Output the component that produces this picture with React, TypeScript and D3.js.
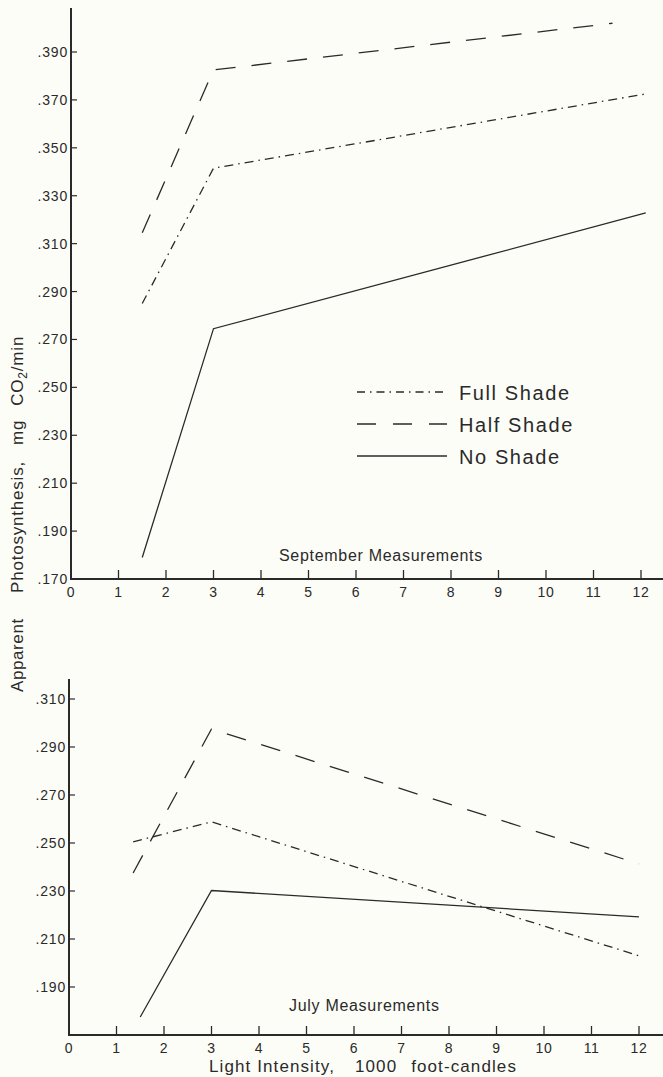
import React from "react";
import * as d3 from "d3";

// ---- Data ----
const xTicks = [0, 1, 2, 3, 4, 5, 6, 7, 8, 9, 10, 11, 12];
const septYTicks = [0.17, 0.19, 0.21, 0.23, 0.25, 0.27, 0.29, 0.31, 0.33, 0.35, 0.37, 0.39];
const julyYTicks = [0.19, 0.21, 0.23, 0.25, 0.27, 0.29, 0.31];

const septFullX = [1.5, 3, 12.1];
const septFullY = [0.285, 0.3415, 0.3725];
const septHalfX = [1.5, 3, 11.4];
const septHalfY = [0.3145, 0.3825, 0.402];
const septNoX = [1.5, 3, 12.1];
const septNoY = [0.179, 0.2745, 0.3228];

const julyFullX = [1.35, 3, 12];
const julyFullY = [0.2505, 0.2588, 0.203];
const julyHalfX = [1.35, 3, 12];
const julyHalfY = [0.2375, 0.2975, 0.2413];
const julyNoX = [1.5, 3, 12];
const julyNoY = [0.1775, 0.2302, 0.2192];

const legendLabels = ["Full Shade", "Half Shade", "No Shade"];

const INK = "#2a2a2a";
const FONT = "'Liberation Sans', 'DejaVu Sans', sans-serif";
const DASH_FULL = "9,5,1.5,5";
const DASH_HALF = "20,16";
const styles = [DASH_FULL, DASH_HALF, undefined];

const fmt = (v: number) => d3.format(".3f")(v).replace(/^0/, "");

function Panel({ x, y, yTicks, yTop, series, label, labelX, labelY, axisRight }: any) {
  const line = d3.line<[number, number]>().x((d) => x(d[0])).y((d) => y(d[1]));
  const x0 = x(0);
  const y0 = y.range()[0];
  return (
    <g>
      {/* y axis */}
      <line x1={x0} x2={x0} y1={yTop} y2={y0 + 1} stroke={INK} strokeWidth={2} />
      {yTicks.map((t: number) => (
        <g key={t}>
          <line x1={x0} x2={x0 + 6} y1={y(t)} y2={y(t)} stroke={INK} strokeWidth={1.2} />
          <text x={x0 - 3} y={y(t) + 5} textAnchor="end" fontSize={14} fill={INK} fontFamily={FONT} letterSpacing={0.8}>
            {fmt(t)}
          </text>
        </g>
      ))}
      {/* x axis */}
      <line x1={x0 - 1} x2={axisRight} y1={y0} y2={y0} stroke={INK} strokeWidth={2} />
      {xTicks.map((t: number) => (
        <g key={t}>
          {t > 0 && <line x1={x(t)} x2={x(t)} y1={y0} y2={y0 - 9} stroke={INK} strokeWidth={1.3} />}
          <text x={x(t)} y={y0 + 18} textAnchor="middle" fontSize={14} fill={INK} fontFamily={FONT} letterSpacing={0.6}>
            {t}
          </text>
        </g>
      ))}
      {series.map((s: any, i: number) => (
        <path
          key={i}
          d={line(s.xs.map((v: number, j: number) => [v, s.ys[j]]) as [number, number][]) || ""}
          fill="none"
          stroke={INK}
          strokeWidth={1.3}
          strokeDasharray={styles[i]}
        />
      ))}
      <text x={labelX} y={labelY} fontSize={16} fill={INK} fontFamily={FONT} letterSpacing={0.7}>
        {label}
      </text>
    </g>
  );
}

export default function App() {
  const xS = d3.scaleLinear().domain([0, 12]).range([71, 641]);
  const yS = d3.scaleLinear().domain([0.17, 0.39]).range([579, 52]);
  const xJ = d3.scaleLinear().domain([0, 12]).range([69, 639]);
  const yJ = d3.scaleLinear().domain([0.17, 0.31]).range([1035, 699]);

  const septSeries = [
    { xs: septFullX, ys: septFullY },
    { xs: septHalfX, ys: septHalfY },
    { xs: septNoX, ys: septNoY },
  ];
  const julySeries = [
    { xs: julyFullX, ys: julyFullY },
    { xs: julyHalfX, ys: julyHalfY },
    { xs: julyNoX, ys: julyNoY },
  ];

  return (
    <svg
      width={663}
      height={1077}
      style={{ position: "absolute", left: 0, top: 0 }}
      xmlns="http://www.w3.org/2000/svg"
    >
      <rect width={663} height={1077} fill="#fdfdf8" />
      <Panel
        x={xS}
        y={yS}
        yTicks={septYTicks}
        yTop={8}
        series={septSeries}
        label="September  Measurements"
        labelX={279}
        labelY={561}
        axisRight={663}
      />
      <Panel
        x={xJ}
        y={yJ}
        yTicks={julyYTicks}
        yTop={679}
        series={julySeries}
        label="July  Measurements"
        labelX={289}
        labelY={1011}
        axisRight={663}
      />
      {/* legend */}
      {legendLabels.map((l, i) => (
        <g key={l}>
          <line
            x1={357}
            x2={447}
            y1={392 + i * 32}
            y2={392 + i * 32}
            stroke={INK}
            strokeWidth={1.3}
            strokeDasharray={i === 0 ? "8,5,1.5,5" : i === 1 ? "19,17" : undefined}
          />
          <text x={459} y={400 + i * 32} fontSize={20} fill={INK} fontFamily={FONT} letterSpacing={1.6}>
            {l}
          </text>
        </g>
      ))}
      {/* y axis title */}
      <text transform="translate(23,692) rotate(-90)" fontSize={17} fill={INK} fontFamily={FONT} letterSpacing={0.6}>
        Apparent
      </text>
      <text transform="translate(23,593) rotate(-90)" fontSize={17} fill={INK} fontFamily={FONT} letterSpacing={0.8}>
        <tspan>Photosynthesis,</tspan>
        <tspan dx={16}>mg</tspan>
        <tspan dx={14}>CO</tspan>
        <tspan fontSize={12} dy={4}>2</tspan>
        <tspan dy={-4}>/min</tspan>
      </text>
      {/* x axis title */}
      <text x={209} y={1072} fontSize={17} fill={INK} fontFamily={FONT} letterSpacing={1.1}>
        <tspan>Light Intensity,</tspan>
        <tspan dx={20}>1000</tspan>
        <tspan dx={14}>foot-candles</tspan>
      </text>
    </svg>
  );
}
